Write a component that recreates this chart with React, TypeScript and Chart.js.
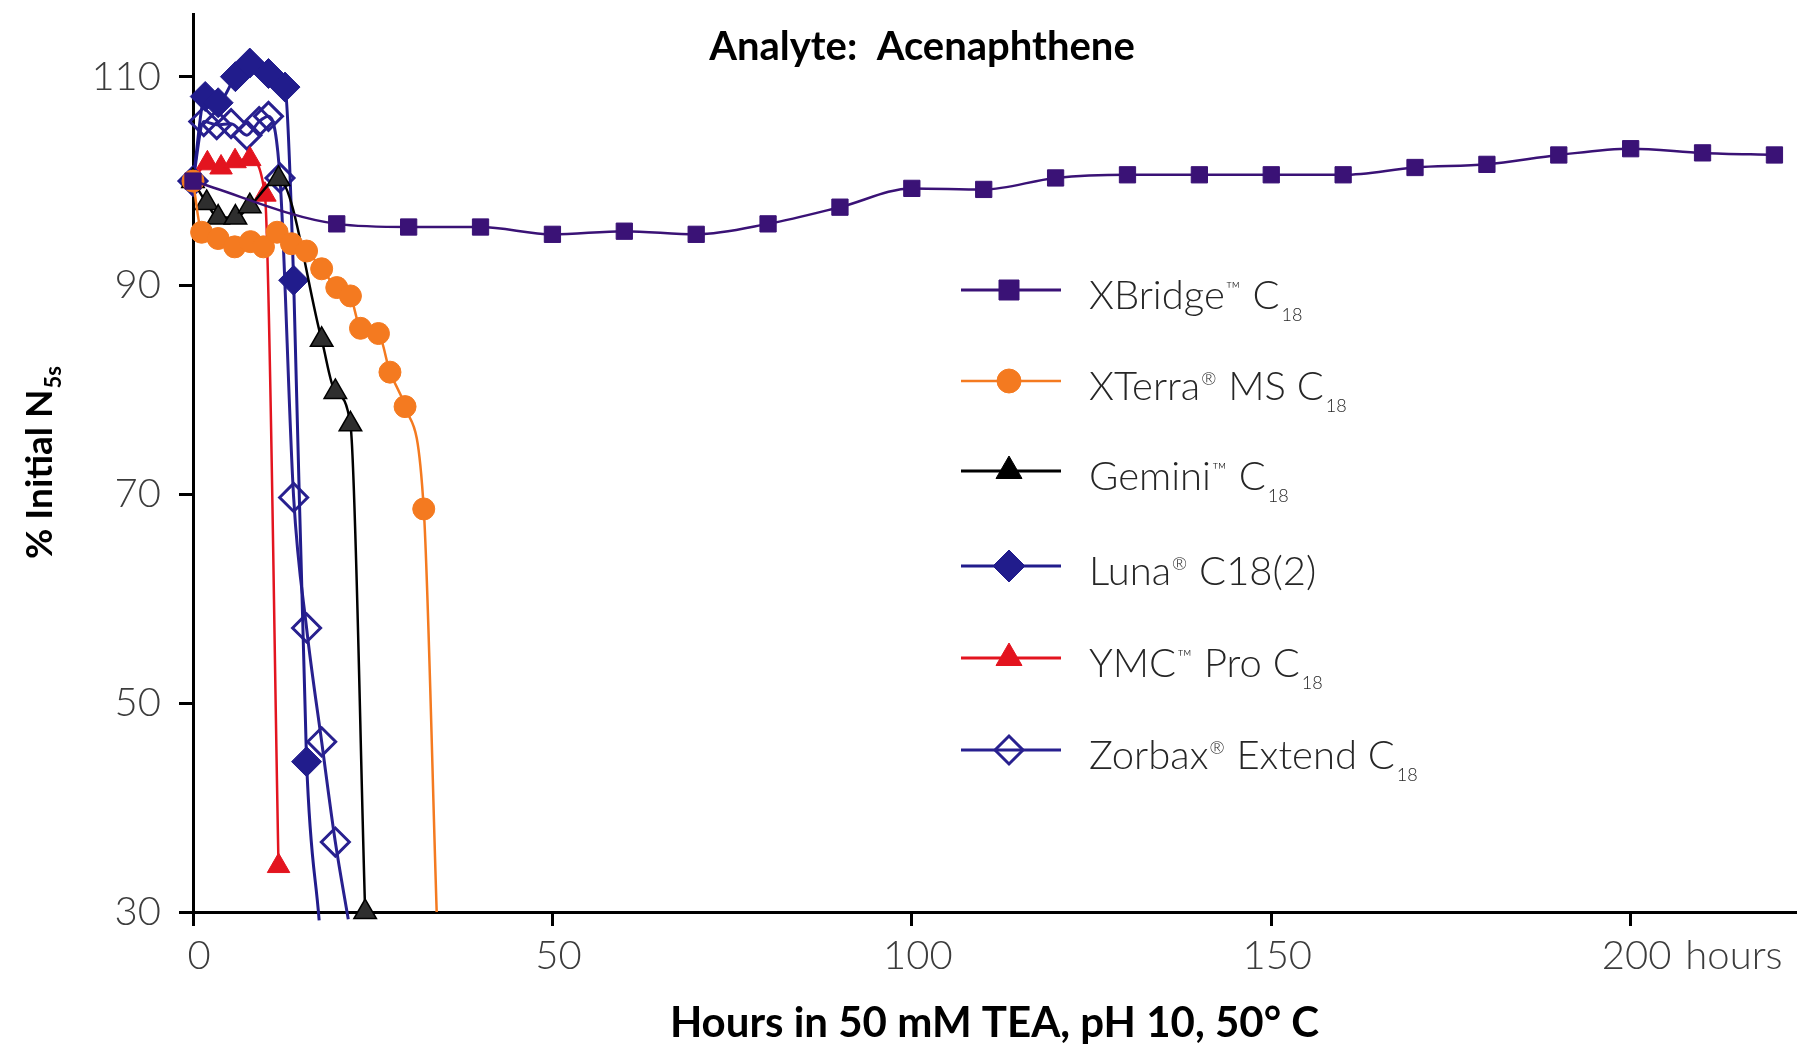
import React, { useEffect, useRef } from "react";
import { Chart, registerables } from "chart.js";

Chart.register(...registerables);

// ---------------- data ----------------
const chartTitle = "Analyte:  Acenaphthene";
const xAxisTitle = "Hours in 50 mM TEA, pH 10, 50° C";
const yAxisTitleMain = "% Initial N";
const yAxisTitleSub = "5s";
const xTickValues = [0, 50, 100, 150, 200];
const xUnitLabel = "hours";
const yTickValues = [30, 50, 70, 90, 110];

const xbridgeHours = [0, 20, 30, 40, 50, 60, 70, 80, 90, 100, 110, 120, 130, 140, 150, 160, 170, 180, 190, 200, 210, 220];
const xbridgeValues = [100, 95.9, 95.6, 95.6, 94.9, 95.2, 94.9, 95.9, 97.5, 99.3, 99.2, 100.3, 100.6, 100.6, 100.6, 100.6, 101.3, 101.6, 102.5, 103.1, 102.7, 102.5];

const xterraHours = [0, 1.2, 3.5, 5.8, 8, 9.8, 11.7, 13.7, 15.8, 17.9, 20, 21.9, 23.3, 25.8, 27.4, 29.5, 32.1, 33.9];
const xterraValues = [100, 95.1, 94.5, 93.7, 94.2, 93.7, 95.1, 94, 93.3, 91.6, 89.8, 89, 85.9, 85.4, 81.7, 78.4, 68.6, 30];

const geminiHours = [0, 1.9, 3.5, 5.9, 7.9, 11.9, 17.9, 19.8, 21.9, 23.95];
const geminiValues = [100, 97.9, 96.5, 96.5, 97.6, 100.2, 84.8, 79.8, 76.7, 30];

const lunaHours = [0, 1.7, 3.5, 5.9, 7.9, 10.5, 12.8, 14, 15.8, 17.55];
const lunaValues = [100, 108.1, 107.5, 110, 111.3, 110.3, 109, 90.5, 44.4, 29.2];

const ymcHours = [0, 2, 3.9, 5.85, 7.9, 10, 11.9];
const ymcValues = [100, 101.7, 101.3, 101.9, 102.1, 98.7, 34.4];

const zorbaxHours = [0, 1.5, 3.3, 5.3, 7.5, 9.2, 10.5, 12.1, 14, 15.8, 17.9, 19.8, 21.6];
const zorbaxValues = [100, 105.7, 105.4, 105.5, 104.4, 105.7, 106.2, 100.3, 69.7, 57.2, 46.3, 36.7, 29.3];

// legend labels as text segments: [text, kind]
const legendLabels: [string, string][][] = [
  [["XBridge", ""], ["™", "tm"], [" C", ""], ["18", "sub"]],
  [["XTerra", ""], ["®", "reg"], [" MS C", ""], ["18", "sub"]],
  [["Gemini", ""], ["™", "tm"], [" C", ""], ["18", "sub"]],
  [["Luna", ""], ["®", "reg"], [" C18(2)", ""]],
  [["YMC", ""], ["™", "tm"], [" Pro C", ""], ["18", "sub"]],
  [["Zorbax", ""], ["®", "reg"], [" Extend C", ""], ["18", "sub"]],
];

// ---------------- styling ----------------
const W = 1798;
const H = 1049;
const FONT = '"Lato", "DejaVu Sans", sans-serif';
const TICK_COLOR = "#3c3c3c";

const COLORS = {
  xbridge: "#3a1276",
  xterra: "#f47a20",
  gemini: "#000000",
  geminiFill: "#2e2e2e",
  luna: "#211c8c",
  ymc: "#e3141f",
  zorbax: "#28208f",
};

type MarkerSpec = { style: string; r: number; fill: string; stroke: string; lw: number; line: string; lineW: number };
const legendMarkers: MarkerSpec[] = [
  { style: "rect", r: 10, fill: COLORS.xbridge, stroke: COLORS.xbridge, lw: 1, line: COLORS.xbridge, lineW: 3 },
  { style: "circle", r: 12, fill: COLORS.xterra, stroke: COLORS.xterra, lw: 1, line: COLORS.xterra, lineW: 2.5 },
  { style: "triangle", r: 15, fill: "#000", stroke: "#000", lw: 1, line: "#000", lineW: 3 },
  { style: "rectRot", r: 16, fill: COLORS.luna, stroke: COLORS.luna, lw: 1, line: COLORS.luna, lineW: 3 },
  { style: "triangle", r: 15, fill: COLORS.ymc, stroke: COLORS.ymc, lw: 1, line: COLORS.ymc, lineW: 3 },
  { style: "rectRot", r: 14, fill: "rgba(0,0,0,0)", stroke: COLORS.zorbax, lw: 3, line: COLORS.zorbax, lineW: 3 },
];

function drawMarker(ctx: CanvasRenderingContext2D, m: MarkerSpec, x: number, y: number) {
  ctx.beginPath();
  const r = m.r;
  if (m.style === "rect") {
    ctx.rect(x - r, y - r, 2 * r, 2 * r);
  } else if (m.style === "circle") {
    ctx.arc(x, y, r, 0, Math.PI * 2);
  } else if (m.style === "triangle") {
    for (let i = 0; i < 3; i++) {
      const a = (i * 2 * Math.PI) / 3;
      const px = x + Math.sin(a) * r;
      const py = y - Math.cos(a) * r;
      if (i === 0) ctx.moveTo(px, py);
      else ctx.lineTo(px, py);
    }
    ctx.closePath();
  } else if (m.style === "rectRot") {
    ctx.moveTo(x - r, y);
    ctx.lineTo(x, y - r);
    ctx.lineTo(x + r, y);
    ctx.lineTo(x, y + r);
    ctx.closePath();
  }
  ctx.fillStyle = m.fill;
  ctx.fill();
  ctx.lineWidth = m.lw;
  ctx.strokeStyle = m.stroke;
  ctx.stroke();
}

function drawSegments(ctx: CanvasRenderingContext2D, segs: [string, string][], x: number, baseline: number) {
  const mainSize = 40;
  ctx.font = `300 ${mainSize}px ${FONT}`;
  const capH = ctx.measureText("X").actualBoundingBoxAscent;
  let cx = x;
  for (const [t, kind] of segs) {
    if (kind === "") {
      ctx.font = `300 ${mainSize}px ${FONT}`;
      ctx.fillText(t, cx, baseline);
      cx += ctx.measureText(t).width;
    } else if (kind === "sub") {
      ctx.font = `300 18px ${FONT}`;
      ctx.fillText(t, cx + 2, baseline + 12);
      cx += ctx.measureText(t).width + 2;
    } else {
      const size = kind === "tm" ? 20 : 18;
      ctx.font = `300 ${size}px ${FONT}`;
      const asc = ctx.measureText(t).actualBoundingBoxAscent;
      ctx.fillText(t, cx + 1, baseline - (capH - asc));
      cx += ctx.measureText(t).width + 2;
    }
  }
}

const legendRowY = [290, 381, 471, 566, 658, 750];

const decorPlugin = {
  id: "decor",
  afterDraw(chart: any) {
    const ctx: CanvasRenderingContext2D = chart.ctx;
    ctx.save();

    // chart title
    ctx.fillStyle = "#000";
    ctx.font = `bold 40px ${FONT}`;
    ctx.textAlign = "center";
    ctx.textBaseline = "alphabetic";
    ctx.fillText(chartTitle, 922, 60);

    // y axis title with subscript
    ctx.save();
    ctx.translate(39, 463);
    ctx.rotate(-Math.PI / 2);
    ctx.font = `bold 37px ${FONT}`;
    const w1 = ctx.measureText(yAxisTitleMain).width;
    ctx.font = `bold 22px ${FONT}`;
    const w2 = ctx.measureText(yAxisTitleSub).width;
    const start = -(w1 + w2) / 2;
    ctx.textAlign = "left";
    ctx.font = `bold 37px ${FONT}`;
    ctx.fillText(yAxisTitleMain, start, 13);
    ctx.font = `bold 22px ${FONT}`;
    ctx.fillText(yAxisTitleSub, start + w1 + 1, 22);
    ctx.restore();

    // "hours" after the 200 tick label
    const xs = chart.scales.x;
    const items = xs.getLabelItems ? xs.getLabelItems() : [];
    const item = items.find((it: any) => String(it.label) === "200");
    if (item) {
      ctx.font = `300 40px ${FONT}`;
      ctx.fillStyle = TICK_COLOR;
      ctx.textAlign = "left";
      ctx.textBaseline = item.options.textBaseline || "middle";
      const w200 = ctx.measureText("200").width;
      const sp = ctx.measureText(" ").width;
      const [tx, ty] = item.options.translation;
      ctx.fillText(xUnitLabel, tx + w200 / 2 + sp + 3, ty + (item.textOffset || 0));
    }

    // legend
    ctx.textAlign = "left";
    ctx.textBaseline = "alphabetic";
    legendLabels.forEach((segs, i) => {
      const y = legendRowY[i];
      const m = legendMarkers[i];
      ctx.beginPath();
      ctx.moveTo(961, y);
      ctx.lineTo(1061, y);
      ctx.lineWidth = m.lineW;
      ctx.strokeStyle = m.line;
      ctx.stroke();
      drawMarker(ctx, m, 1009, y);
      ctx.fillStyle = "#262626";
      drawSegments(ctx, segs, 1089, y + 19);
    });

    ctx.restore();
  },
};

function toPoints(hours: number[], values: number[]) {
  return hours.map((h, i) => ({ x: h, y: values[i] }));
}

function radii(n: number, r: number, hideLast: boolean) {
  return Array.from({ length: n }, (_, i) => (hideLast && i === n - 1 ? 0 : r));
}

export default function App() {
  const ref = useRef<HTMLCanvasElement>(null);

  useEffect(() => {
    const canvas = ref.current;
    if (!canvas) return;
    const common = {
      clip: false as any,
      cubicInterpolationMode: "monotone" as const,
      tension: 0.4,
    };
    const chart = new Chart(canvas, {
      type: "line",
      data: {
        datasets: [
          {
            ...common,
            label: "XBridge C18",
            data: toPoints(xbridgeHours, xbridgeValues),
            borderColor: COLORS.xbridge,
            backgroundColor: COLORS.xbridge,
            borderWidth: 2.5,
            pointStyle: "rect",
            pointRadius: 11.5,
            pointBorderWidth: 1,
            pointBackgroundColor: COLORS.xbridge,
            pointBorderColor: COLORS.xbridge,
          },
          {
            ...common,
            label: "XTerra MS C18",
            data: toPoints(xterraHours, xterraValues),
            borderColor: COLORS.xterra,
            backgroundColor: COLORS.xterra,
            borderWidth: 2.5,
            pointStyle: "circle",
            pointRadius: radii(xterraHours.length, 11, true),
            pointBorderWidth: 1,
            pointBackgroundColor: COLORS.xterra,
            pointBorderColor: COLORS.xterra,
          },
          {
            ...common,
            label: "Gemini C18",
            data: toPoints(geminiHours, geminiValues),
            borderColor: COLORS.gemini,
            backgroundColor: COLORS.geminiFill,
            borderWidth: 2.5,
            pointStyle: "triangle",
            pointRadius: 13,
            pointBorderWidth: 1.5,
            pointBackgroundColor: COLORS.geminiFill,
            pointBorderColor: "#000",
          },
          {
            ...common,
            label: "Luna C18(2)",
            data: toPoints(lunaHours, lunaValues),
            borderColor: COLORS.luna,
            backgroundColor: COLORS.luna,
            borderWidth: 3,
            pointStyle: "rectRot",
            pointRadius: radii(lunaHours.length, 15, true),
            pointBorderWidth: 1,
            pointBackgroundColor: COLORS.luna,
            pointBorderColor: COLORS.luna,
          },
          {
            ...common,
            label: "YMC Pro C18",
            data: toPoints(ymcHours, ymcValues),
            borderColor: COLORS.ymc,
            backgroundColor: COLORS.ymc,
            borderWidth: 2.5,
            pointStyle: "triangle",
            pointRadius: 13,
            pointBorderWidth: 1,
            pointBackgroundColor: COLORS.ymc,
            pointBorderColor: COLORS.ymc,
          },
          {
            ...common,
            label: "Zorbax Extend C18",
            data: toPoints(zorbaxHours, zorbaxValues),
            borderColor: COLORS.zorbax,
            backgroundColor: "rgba(0,0,0,0)",
            borderWidth: 3,
            pointStyle: "rectRot",
            pointRadius: radii(zorbaxHours.length, 14, true),
            pointBorderWidth: 3,
            pointBackgroundColor: "rgba(0,0,0,0)",
            pointBorderColor: COLORS.zorbax,
          },
        ],
      },
      options: {
        responsive: false,
        animation: false,
        devicePixelRatio: 1,
        events: [],
        layout: { autoPadding: false, padding: { left: 0, top: 14, right: 2, bottom: 0 } },
        plugins: {
          legend: { display: false },
          tooltip: { enabled: false },
          title: { display: false },
        },
        scales: {
          x: {
            type: "linear",
            min: 0,
            max: 223,
            afterBuildTicks: (s: any) => {
              s.ticks = xTickValues.map((v) => ({ value: v }));
            },
            afterFit: (s: any) => {
              s.height = 137;
              s.paddingLeft = 0;
              s.paddingRight = 0;
            },
            grid: {
              display: true,
              drawOnChartArea: false,
              drawTicks: true,
              tickLength: 14,
              tickWidth: 3,
              tickColor: "#000",
            },
            border: { display: true, color: "#000", width: 3 },
            ticks: {
              color: TICK_COLOR,
              font: { family: FONT, size: 40, weight: "300" as any },
              padding: 6,
              labelOffset: 6,
              maxRotation: 0,
              autoSkip: false,
              callback: (v: any) => String(v),
            },
            title: {
              display: true,
              text: xAxisTitle,
              color: "#000",
              font: { family: FONT, size: 42, weight: "bold" },
              padding: { top: 4, bottom: 0 },
            },
          },
          y: {
            type: "linear",
            min: 30,
            max: 116,
            afterBuildTicks: (s: any) => {
              s.ticks = yTickValues.map((v) => ({ value: v }));
            },
            afterFit: (s: any) => {
              s.width = 193;
              s.paddingTop = 0;
              s.paddingBottom = 0;
            },
            grid: {
              display: true,
              drawOnChartArea: false,
              drawTicks: true,
              tickLength: 14,
              tickWidth: 3,
              tickColor: "#000",
            },
            border: { display: true, color: "#000", width: 3 },
            ticks: {
              color: TICK_COLOR,
              font: { family: FONT, size: 40, weight: "300" as any },
              padding: 18,
              autoSkip: false,
              callback: (v: any) => String(v),
            },
            title: { display: false },
          },
        },
      },
      plugins: [decorPlugin],
    });
    return () => chart.destroy();
  }, []);

  return (
    <div style={{ position: "fixed", left: 0, top: 0, width: W, height: H, background: "#fff" }}>
      <canvas ref={ref} width={W} height={H} style={{ width: W, height: H, display: "block" }} />
    </div>
  );
}
